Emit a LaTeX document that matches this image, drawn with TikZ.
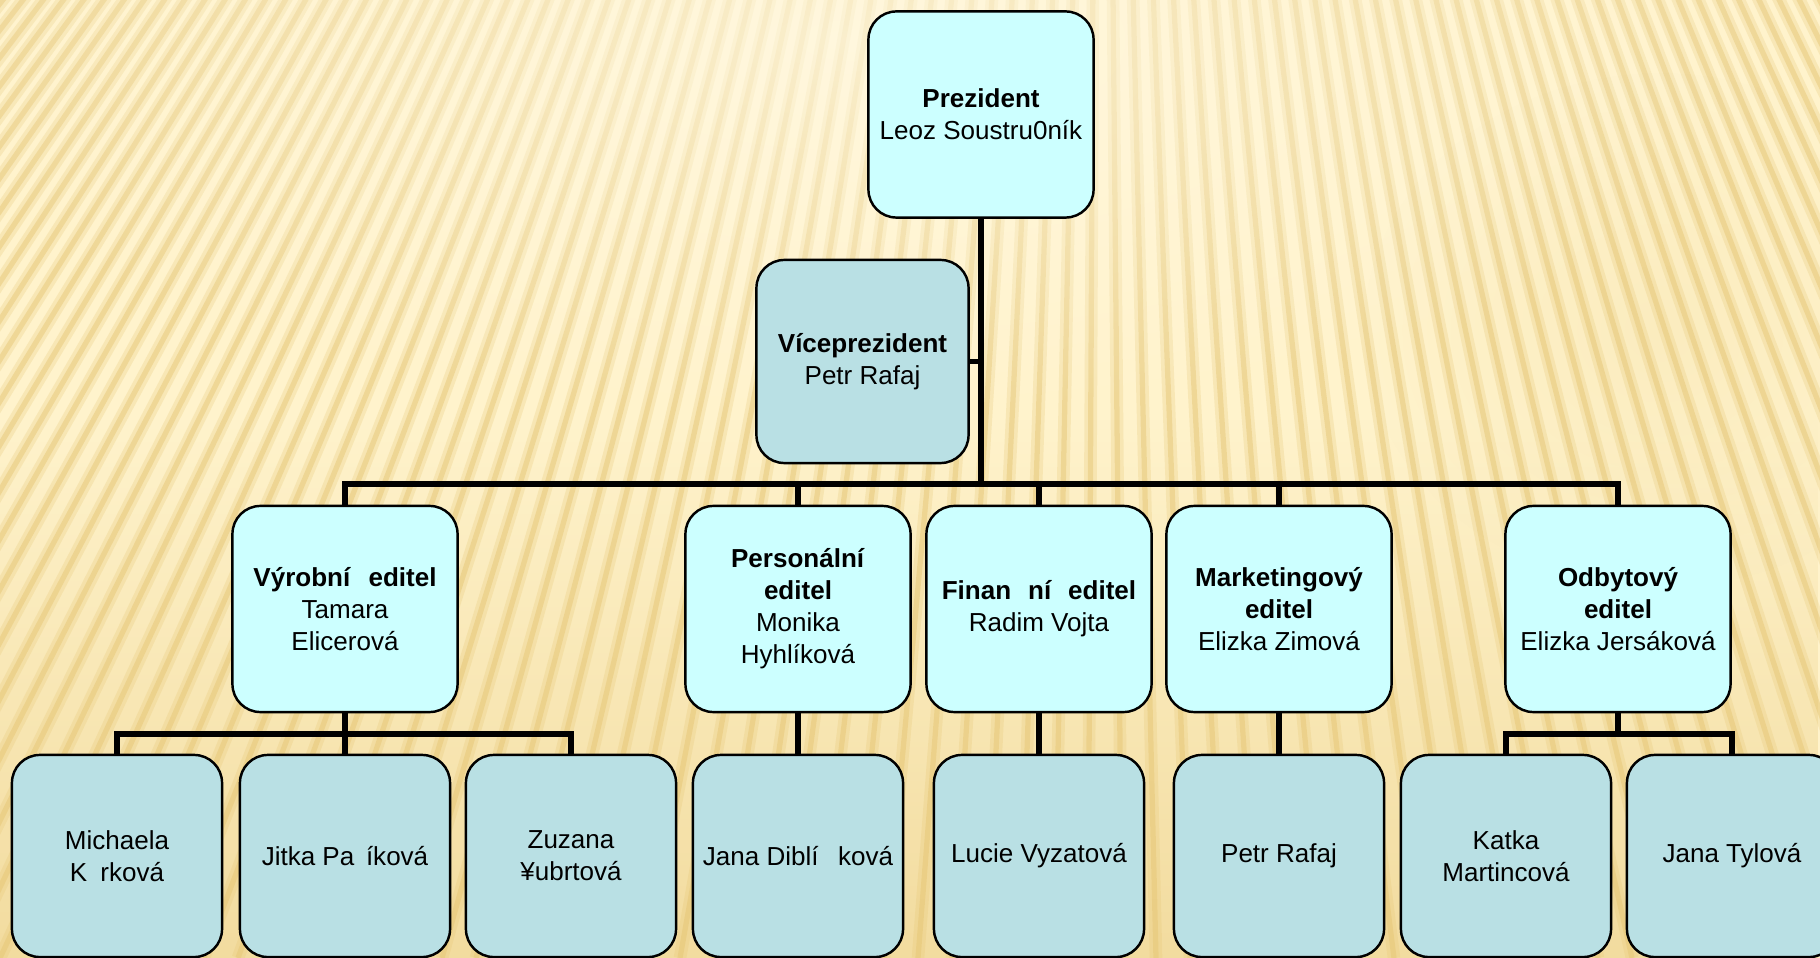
\documentclass[tikz,border=0pt]{standalone}
\usepackage{fontspec}
\setmainfont{Liberation Sans}
\usetikzlibrary{fadings}
\definecolor{cream}{HTML}{FFF3CC}
\definecolor{gold}{HTML}{E6C572}
\definecolor{boxcyan}{HTML}{CCFFFF}
\definecolor{boxteal}{HTML}{B9E0E4}
\tikzfading[name=glow, inner color=transparent!0, outer color=transparent!100]
\tikzfading[name=rise, top color=transparent!100, bottom color=transparent!0]
\begin{document}
\begin{tikzpicture}[x=0.01cm,y=-0.01cm,
    card/.style={draw=black, line width=0.7pt, rounded corners=0.28cm, fill=boxcyan, align=center, inner sep=0pt,
                 minimum width=2.25cm, minimum height=2.06cm, font=\fontsize{7.4pt}{9.1pt}\selectfont},
    staff/.style={card, fill=boxteal, minimum width=2.1cm, minimum height=2.02cm},
    conn/.style={line width=1.7pt}]
    \useasboundingbox (0,0) rectangle (1820,958);
    \begin{scope}
        \clip (0,0) rectangle (1820,958);
        \fill[cream] (0,0) rectangle (1820,958);
        \foreach \i in {-25,...,70} {
            \draw[gold, line width=3.6pt, opacity=.25] (1100,-1400) -- (\i*34,958);
            \draw[gold, line width=1.5pt, opacity=.45] (1100,-1400) -- (\i*34,958);
        }
        \fill[cream!50!white, opacity=.7, path fading=glow] (850,40) ellipse (950 and 380);
        \fill[gold, opacity=.5, path fading=rise] (0,420) rectangle (1820,958);
        \fill[gold, opacity=.15, path fading=glow] (1660,330) ellipse (300 and 260);
    \end{scope}
    \node[card] (pres) at (981,114.5) {\textbf{Prezident}\\Leoz Soustru0ník};
    \node[card, fill=boxteal, minimum width=2.12cm, minimum height=2.03cm] (vice) at (862.5,361.5)
        {\textbf{Víceprezident}\\Petr Rafaj};
    \node[card] (vyr)  at (345,609)  {\textbf{Výrobní\hspace{.7em}editel}\\Tamara\\Elicerová};
    \node[card] (pers) at (798,609)  {\textbf{Personální}\\\textbf{editel}\\Monika\\Hyhlíková};
    \node[card] (fin)  at (1039,609) {\textbf{Finan\hspace{.65em}ní\hspace{.65em}editel}\\Radim Vojta};
    \node[card] (mkt)  at (1279,609) {\textbf{Marketingový}\\\textbf{editel}\\Elizka Zimová};
    \node[card] (odb)  at (1618,609) {\textbf{Odbytový}\\\textbf{editel}\\Elizka Jersáková};
    \node[staff] (mich) at (117,856)  {Michaela\\K\hspace{.5em}rková};
    \node[staff] (jit)  at (345,856)  {Jitka Pa\hspace{.45em}íková};
    \node[staff] (zuz)  at (571,856)  {Zuzana\\¥ubrtová};
    \node[staff] (dib)  at (798,856)  {Jana Diblí\hspace{.75em}ková};
    \node[staff] (luc)  at (1039,856) {Lucie Vyzatová};
    \node[staff] (pet)  at (1279,856) {Petr Rafaj};
    \node[staff] (kat)  at (1506,856) {Katka\\Martincová};
    \node[staff] (tyl)  at (1732,856) {Jana Tylová};
    \coordinate (hub) at (pres.south |- 0,484);
    \coordinate (vyrhub) at (vyr.south |- 0,734);
    \coordinate (odbhub) at (odb.south |- 0,734);
    \draw[conn] (pres.south) -- (hub);
    \draw[conn] (vice.east) -- (vice.east -| hub);
    \draw[conn] (vyr.north) |- (hub) -| (odb.north);
    \foreach \n in {pers,fin,mkt}
        \draw[conn] (\n.north) -- (\n.north |- hub);
    \draw[conn] (vyr.south) -- (jit.north);
    \draw[conn] (mich.north) |- (vyrhub) -| (zuz.north);
    \draw[conn] (odb.south) -- (odbhub);
    \draw[conn] (kat.north) |- (odbhub) -| (tyl.north);
    \foreach \a/\b in {pers/dib,fin/luc,mkt/pet}
        \draw[conn] (\a.south) -- (\b.north);
\end{tikzpicture}
\end{document}
